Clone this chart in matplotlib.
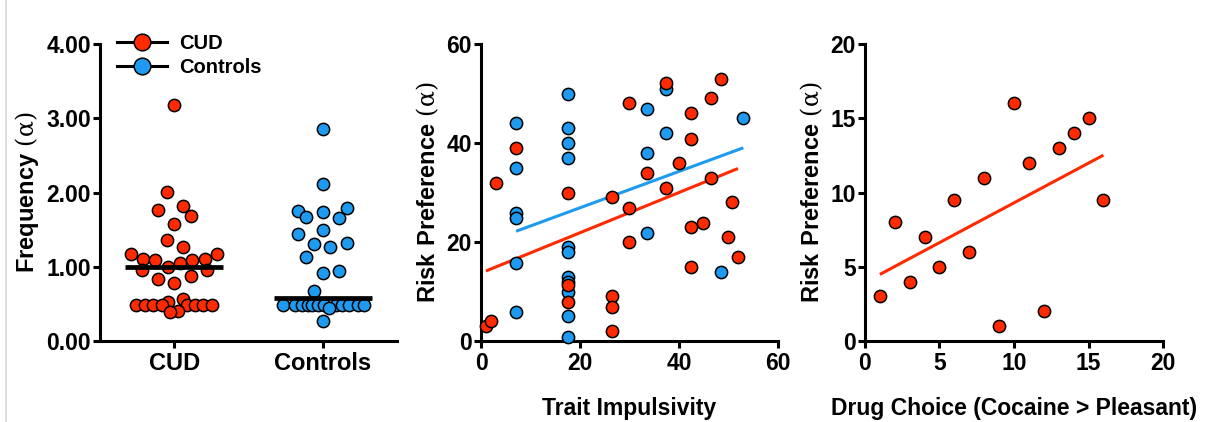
import numpy as np
import matplotlib
matplotlib.use('Agg')
import matplotlib.pyplot as plt
from matplotlib.lines import Line2D

plt.rcParams['font.family'] = ['Liberation Sans', 'DejaVu Sans']
plt.rcParams['font.weight'] = 'bold'
plt.rcParams['axes.labelweight'] = 'bold'
plt.rcParams['mathtext.fontset'] = 'custom'
plt.rcParams['mathtext.bf'] = 'Liberation Sans:bold'
plt.rcParams['mathtext.rm'] = 'DejaVu Serif:normal'
plt.rcParams['mathtext.it'] = 'DejaVu Serif:italic:normal'

RED = '#FF2A00'
BLUE = '#1E9BF0'

# ---- panel 1: frequency by group (y values with horizontal jitter) ----
groups = ['CUD', 'Controls']
cud_freq = [3.18, 2.01, 1.76, 1.82, 1.69, 1.57, 1.36, 1.26, 1.17, 1.17,
            1.10, 1.09, 1.05, 1.09, 1.10, 1.00, 0.96, 0.96, 0.84, 0.88,
            0.78, 0.53, 0.565, 0.485, 0.485, 0.485, 0.485, 0.485, 0.485,
            0.485, 0.485, 0.41, 0.39]
cud_jit = [0.0, -0.05, -0.11, 0.06, 0.11, 0.0, -0.05, 0.06, -0.29, 0.29,
           -0.21, -0.13, 0.04, 0.12, 0.21, -0.04, -0.22, 0.22, -0.11, 0.11,
           0.0, -0.04, 0.06, -0.255, -0.195, -0.14, -0.08, 0.087, 0.14,
           0.195, 0.255, 0.027, -0.03]
ctrl_freq = [2.86, 2.11, 1.79, 1.75, 1.74, 1.67, 1.65, 1.50, 1.44, 1.31,
             1.32, 1.27, 1.13, 0.94, 0.92, 0.67, 0.485, 0.485, 0.485, 0.485,
             0.485, 0.485, 0.485, 0.485, 0.485, 0.485, 0.485, 0.485, 0.44, 0.27]
ctrl_jit = [0.0, 0.0, 0.16, -0.17, 0.0, -0.11, 0.11, 0.0, -0.17, -0.06,
            0.16, 0.05, -0.11, 0.11, 0.0, -0.06, -0.27, -0.19, -0.14, -0.10,
            -0.07, -0.035, 0.007, 0.087, 0.13, 0.175, 0.24, 0.28, 0.04, 0.0]
medians = [1.0, 0.58]

# ---- panel 2: risk preference vs trait impulsivity ----
cud_imp = [1, 2, 3, 7, 17.5, 17.5, 17.5, 26.4, 26.4, 26.4, 26.4, 29.9, 29.9,
           29.9, 33.5, 37.4, 37.4, 40.1, 42.5, 42.5, 42.5, 42.5, 44.9, 46.4,
           46.4, 48.5, 49.9, 50.8, 51.9]
cud_risk = [3, 4, 32, 39, 30, 11.4, 7.9, 29, 9, 6.9, 2, 48, 26.9, 19.9, 34,
            52.1, 31, 36, 46, 40.9, 23, 15, 23.9, 49, 32.9, 53, 21, 28, 16.9]
ctrl_imp = [7.1, 7.1, 7.1, 7.1, 7.1, 7.1, 17.5, 17.5, 17.5, 17.5, 17.5, 17.5,
            17.5, 17.5, 17.5, 17.5, 17.5, 33.5, 33.5, 33.5, 37.4, 37.4, 48.5, 53]
ctrl_risk = [44, 34.9, 25.9, 24.9, 15.8, 5.9, 50, 43, 40, 37, 18.9, 17.9,
             12.9, 11.9, 9.9, 5, 0.9, 46.9, 38, 21.9, 51, 42, 14, 45]

# ---- panel 3: risk preference vs drug choice ----
choice = [1, 2, 3, 4, 5, 6, 7, 8, 9, 10, 11, 12, 13, 14, 15, 16]
choice_risk = [3, 8, 4, 7, 5, 9.5, 6, 11, 1, 16, 12, 2, 13, 14, 15, 9.5]

W, H = 1210, 422
fig = plt.figure(figsize=(W / 100, H / 100), dpi=100)


def add_ax(x0, x1, y_top=44, y_bot=341):
    return fig.add_axes([x0 / W, 1 - y_bot / H, (x1 - x0) / W, (y_bot - y_top) / H])


def style(ax):
    for s in ['top', 'right']:
        ax.spines[s].set_visible(False)
    for s in ['left', 'bottom']:
        ax.spines[s].set_linewidth(2.2)
    ax.tick_params(width=2.2, length=5, labelsize=16.5, pad=1.5)
    ax.tick_params(axis='x', pad=3)


def fit_line(ax, x, y, color):
    x = np.asarray(x, float)
    k, b = np.polyfit(x, np.asarray(y, float), 1)
    xs = np.array([x.min(), x.max()])
    ax.plot(xs, k * xs + b, color=color, lw=2.2, zorder=2, solid_capstyle='butt')


dot = dict(s=78, edgecolors='black', linewidths=1.1, zorder=3, clip_on=False)
risk_label = r'$\mathbf{Risk\ Preference}\ \mathrm{(\alpha)}$'

# panel 1
ax1 = add_ax(100, 397)
ax1.scatter(np.array(cud_jit), cud_freq, color=RED, **dot)
ax1.scatter(1 + np.array(ctrl_jit), ctrl_freq, color=BLUE, **dot)
for i, m in enumerate(medians):
    ax1.plot([i - 0.33, i + 0.33], [m, m], color='black', lw=3.4, zorder=4,
             solid_capstyle='butt')
ax1.set_xlim(-0.5, 1.5)
ax1.set_ylim(0, 4)
ax1.set_yticks([0, 1, 2, 3, 4])
ax1.set_yticklabels(['%.2f' % v for v in [0, 1, 2, 3, 4]])
ax1.set_xticks([0, 1])
ax1.set_xticklabels(groups)
style(ax1)
ax1.tick_params(axis='x', labelsize=17)
ax1.set_ylabel(r'$\mathbf{Frequency}\ \mathrm{(\alpha)}$', fontsize=17,
               fontweight='normal', labelpad=3.5)
handles = [Line2D([], [], color='black', lw=2.2, marker='o', markersize=12,
                  markerfacecolor=c, markeredgecolor='black', markeredgewidth=1.1)
           for c in [RED, BLUE]]
ax1.legend(handles, groups, loc='upper left', bbox_to_anchor=(0.057, 1.033),
           frameon=False, fontsize=14.5, handlelength=2.5, handletextpad=0.6,
           labelspacing=0.25, borderpad=0, borderaxespad=0)

# panel 2
ax2 = add_ax(481, 778)
fit_line(ax2, ctrl_imp, ctrl_risk, BLUE)
fit_line(ax2, cud_imp, cud_risk, RED)
ax2.scatter(ctrl_imp, ctrl_risk, color=BLUE, **dot)
ax2.scatter(cud_imp, cud_risk, color=RED, **dot)
ax2.set_xlim(0, 60)
ax2.set_ylim(0, 60)
ax2.set_xticks([0, 20, 40, 60])
ax2.set_yticks([0, 20, 40, 60])
style(ax2)
ax2.set_xlabel('Trait Impulsivity', fontsize=16.5, labelpad=16)
ax2.set_ylabel(risk_label, fontsize=17, fontweight='normal', labelpad=4)

# panel 3
ax3 = add_ax(865, 1163)
fit_line(ax3, choice, choice_risk, RED)
ax3.scatter(choice, choice_risk, color=RED, **dot)
ax3.set_xlim(0, 20)
ax3.set_ylim(0, 20)
ax3.set_xticks([0, 5, 10, 15, 20])
ax3.set_yticks([0, 5, 10, 15, 20])
style(ax3)
ax3.set_xlabel('Drug Choice (Cocaine > Pleasant)', fontsize=16.5, labelpad=16)
ax3.set_ylabel(risk_label, fontsize=17, fontweight='normal', labelpad=4)

# faint frame edge on the left
fig.add_artist(Line2D([5.5 / W, 5.5 / W], [0, 1], color='#d8d8d8', lw=1.2))

fig.savefig('out.png', dpi=100)
